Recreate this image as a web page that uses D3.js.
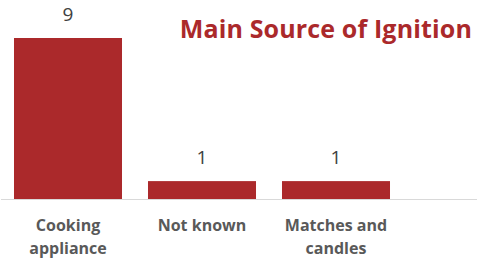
<!DOCTYPE html>
<html>
<head>
<meta charset="utf-8">
<script src="https://cdn.jsdelivr.net/npm/d3@7"></script>
<style>
  body { margin: 0; background: #fff; }
  svg { display: block; }
</style>
</head>
<body>
<svg width="478" height="267"></svg>
<script>
const categories = ["Cooking appliance", "Not known", "Matches and candles"];
const labelLines = [["Cooking", "appliance"], ["Not known"], ["Matches and", "candles"]];
const counts = [9, 1, 1];

const WIDTH = 478, HEIGHT = 267;
const BAR = "#AB292B";

let svg = d3.select("svg");

let x = d3.scaleBand()
          .domain(categories)
          .range([1, 403])
          .paddingInner(0.194)
          .paddingOuter(0.097);

let y = d3.scaleLinear()
          .domain([0, 9])
          .range([199, 38]);

// baseline
svg.append("line")
   .attr("x1", 1).attr("x2", 477)
   .attr("y1", y(0) + 0.5).attr("y2", y(0) + 0.5)
   .attr("stroke", "#d9d9d9")
   .attr("stroke-width", 1);

svg.selectAll("rect.bar")
   .data(counts)
   .enter().append("rect")
   .attr("class", "bar")
   .attr("x", (d, i) => x(categories[i]))
   .attr("y", d => y(d))
   .attr("width", x.bandwidth())
   .attr("height", d => y(0) - y(d))
   .attr("fill", BAR);

svg.selectAll("text.val")
   .data(counts)
   .enter().append("text")
   .attr("class", "val")
   .attr("x", (d, i) => x(categories[i]) + x.bandwidth() / 2)
   .attr("y", d => y(d) - 17)
   .attr("text-anchor", "middle")
   .attr("font-family", "Open Sans, sans-serif")
   .attr("font-size", 19)
   .attr("fill", "#404040")
   .text(d => d);

// category labels, wrapped like the original
let cat = svg.selectAll("text.cat")
             .data(labelLines)
             .enter().append("text")
             .attr("class", "cat")
             .attr("text-anchor", "middle")
             .attr("font-family", "Open Sans, sans-serif")
             .attr("font-weight", "bold")
             .attr("font-size", 16)
             .attr("fill", "#595959");

cat.selectAll("tspan")
   .data((d, i) => d.map(t => ({t: t, i: i})))
   .enter().append("tspan")
   .attr("x", d => x(categories[d.i]) + x.bandwidth() / 2)
   .attr("y", (d, j) => 231 + j * 23)
   .text(d => d.t);

svg.append("text")
   .attr("x", 472)
   .attr("y", 38)
   .attr("text-anchor", "end")
   .attr("font-family", "Open Sans, sans-serif")
   .attr("font-weight", "bold")
   .attr("font-size", 25)
   .attr("letter-spacing", 0.15)
   .attr("fill", "#AB292B")
   .text("Main Source of Ignition");
</script>
</body>
</html>
